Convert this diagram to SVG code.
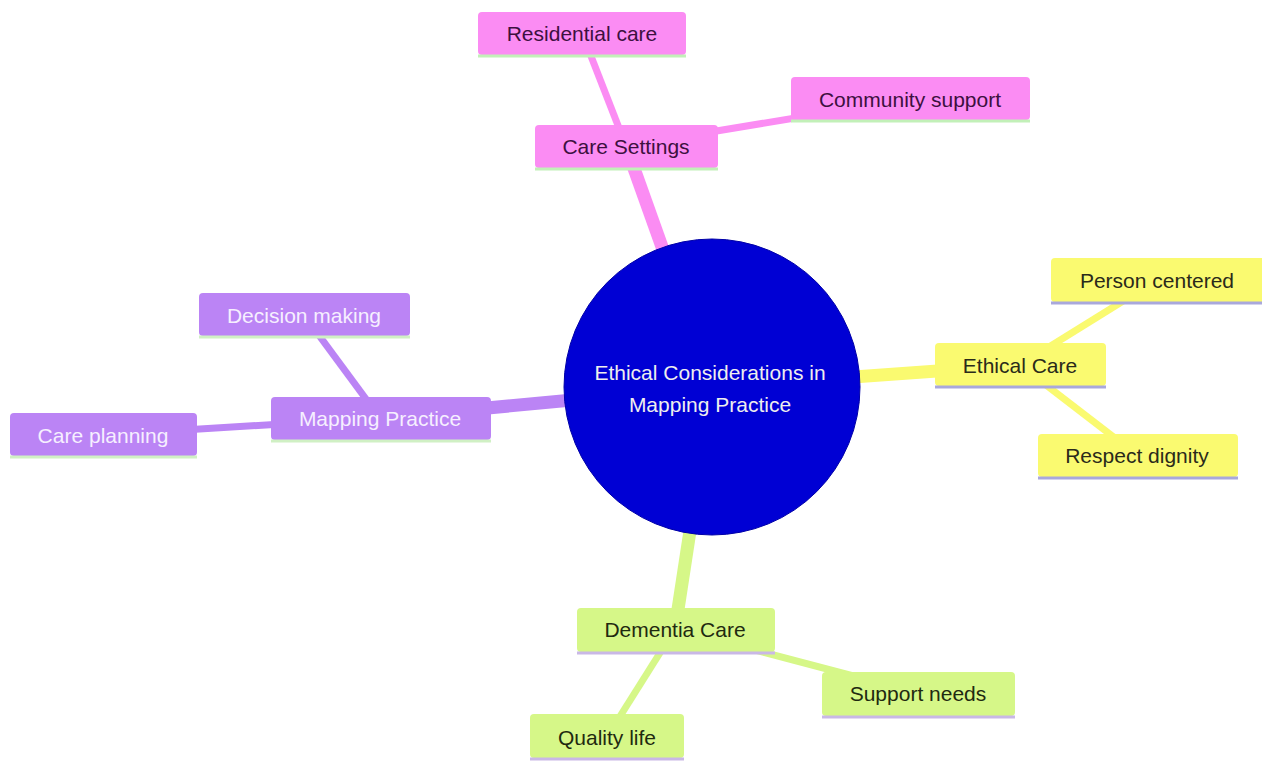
<svg xmlns="http://www.w3.org/2000/svg" width="1262" height="763" viewBox="0 0 1262 763">
<style>
text{font-family:"Liberation Sans",Arial,sans-serif;font-size:21px;text-anchor:middle;dominant-baseline:central}
.e0{stroke-width:13;fill:none}
.e1{stroke-width:7;fill:none}
.pk{fill:#fb8cf3}.pkS{stroke:#fb8cf3}.pkL{stroke:#c2f0b8}.pkT{fill:#3d1040}
.pu{fill:#bb84f5}.puS{stroke:#bb84f5}.puL{stroke:#d0f0c4}.puT{fill:#f6efff}
.ye{fill:#fafa70}.yeS{stroke:#fafa70}.yeL{stroke:#a9a8dc}.yeT{fill:#2a2a1a}
.gr{fill:#d6f788}.grS{stroke:#d6f788}.grL{stroke:#c9b8e6}.grT{fill:#1f2a10}
.bl{stroke-width:3}
</style>
<rect width="1262" height="763" fill="#ffffff"/>
<g id="connectors">
<line class="e0 pkS" x1="712" y1="387" x2="626" y2="146"/>
<line class="e1 pkS" x1="626" y1="146" x2="582" y2="33"/>
<line class="e1 pkS" x1="626" y1="146" x2="910" y2="99"/>
<line class="e0 yeS" x1="712" y1="387" x2="1020" y2="365"/>
<line class="e1 yeS" x1="1020" y1="365" x2="1157" y2="280"/>
<line class="e1 yeS" x1="1020" y1="365" x2="1137" y2="455"/>
<line class="e0 puS" x1="712" y1="387" x2="380" y2="418"/>
<line class="e1 puS" x1="380" y1="418" x2="304" y2="315"/>
<line class="e1 puS" x1="380" y1="418" x2="103" y2="435"/>
<line class="e0 grS" x1="712" y1="387" x2="675" y2="629"/>
<line class="e1 grS" x1="675" y1="629" x2="918" y2="693"/>
<line class="e1 grS" x1="675" y1="629" x2="607" y2="737"/>
</g>
<g id="root">
<circle cx="712" cy="387" r="148" fill="#0000d4" stroke="#0000a8" stroke-width="1"/>
<text x="710" y="372" fill="#eeeeee">Ethical Considerations in</text>
<text x="710" y="404" fill="#eeeeee">Mapping Practice</text>
</g>
<g id="care-settings">
<rect class="pk" x="535" y="125" width="183" height="43" rx="4"/>
<line class="pkL bl" x1="535" y1="169" x2="718" y2="169"/>
<text class="pkT" x="626" y="146">Care Settings</text>
</g>
<g id="residential-care">
<rect class="pk" x="478" y="12" width="208" height="43" rx="4"/>
<line class="pkL bl" x1="478" y1="56" x2="686" y2="56"/>
<text class="pkT" x="582" y="33">Residential care</text>
</g>
<g id="community-support">
<rect class="pk" x="791" y="77" width="239" height="43" rx="4"/>
<line class="pkL bl" x1="791" y1="121" x2="1030" y2="121"/>
<text class="pkT" x="910" y="99">Community support</text>
</g>
<g id="ethical-care">
<rect class="ye" x="935" y="343" width="171" height="43" rx="4"/>
<line class="yeL bl" x1="935" y1="387" x2="1106" y2="387"/>
<text class="yeT" x="1020" y="365">Ethical Care</text>
</g>
<g id="person-centered">
<rect class="ye" x="1051" y="258" width="214" height="44" rx="4"/>
<line class="yeL bl" x1="1051" y1="303" x2="1265" y2="303"/>
<text class="yeT" x="1157" y="280">Person centered</text>
</g>
<g id="respect-dignity">
<rect class="ye" x="1038" y="434" width="200" height="43" rx="4"/>
<line class="yeL bl" x1="1038" y1="478" x2="1238" y2="478"/>
<text class="yeT" x="1137" y="455">Respect dignity</text>
</g>
<g id="mapping-practice">
<rect class="pu" x="271" y="397" width="220" height="43" rx="4"/>
<line class="puL bl" x1="271" y1="441" x2="491" y2="441"/>
<text class="puT" x="380" y="418">Mapping Practice</text>
</g>
<g id="decision-making">
<rect class="pu" x="199" y="293" width="211" height="43" rx="4"/>
<line class="puL bl" x1="199" y1="337" x2="410" y2="337"/>
<text class="puT" x="304" y="315">Decision making</text>
</g>
<g id="care-planning">
<rect class="pu" x="10" y="413" width="187" height="43" rx="4"/>
<line class="puL bl" x1="10" y1="457" x2="197" y2="457"/>
<text class="puT" x="103" y="435">Care planning</text>
</g>
<g id="dementia-care">
<rect class="gr" x="577" y="608" width="198" height="44" rx="4"/>
<line class="grL bl" x1="577" y1="653" x2="775" y2="653"/>
<text class="grT" x="675" y="629">Dementia Care</text>
</g>
<g id="support-needs">
<rect class="gr" x="822" y="672" width="193" height="44" rx="4"/>
<line class="grL bl" x1="822" y1="717" x2="1015" y2="717"/>
<text class="grT" x="918" y="693">Support needs</text>
</g>
<g id="quality-life">
<rect class="gr" x="530" y="714" width="154" height="44" rx="4"/>
<line class="grL bl" x1="530" y1="759" x2="684" y2="759"/>
<text class="grT" x="607" y="737">Quality life</text>
</g>
</svg>
